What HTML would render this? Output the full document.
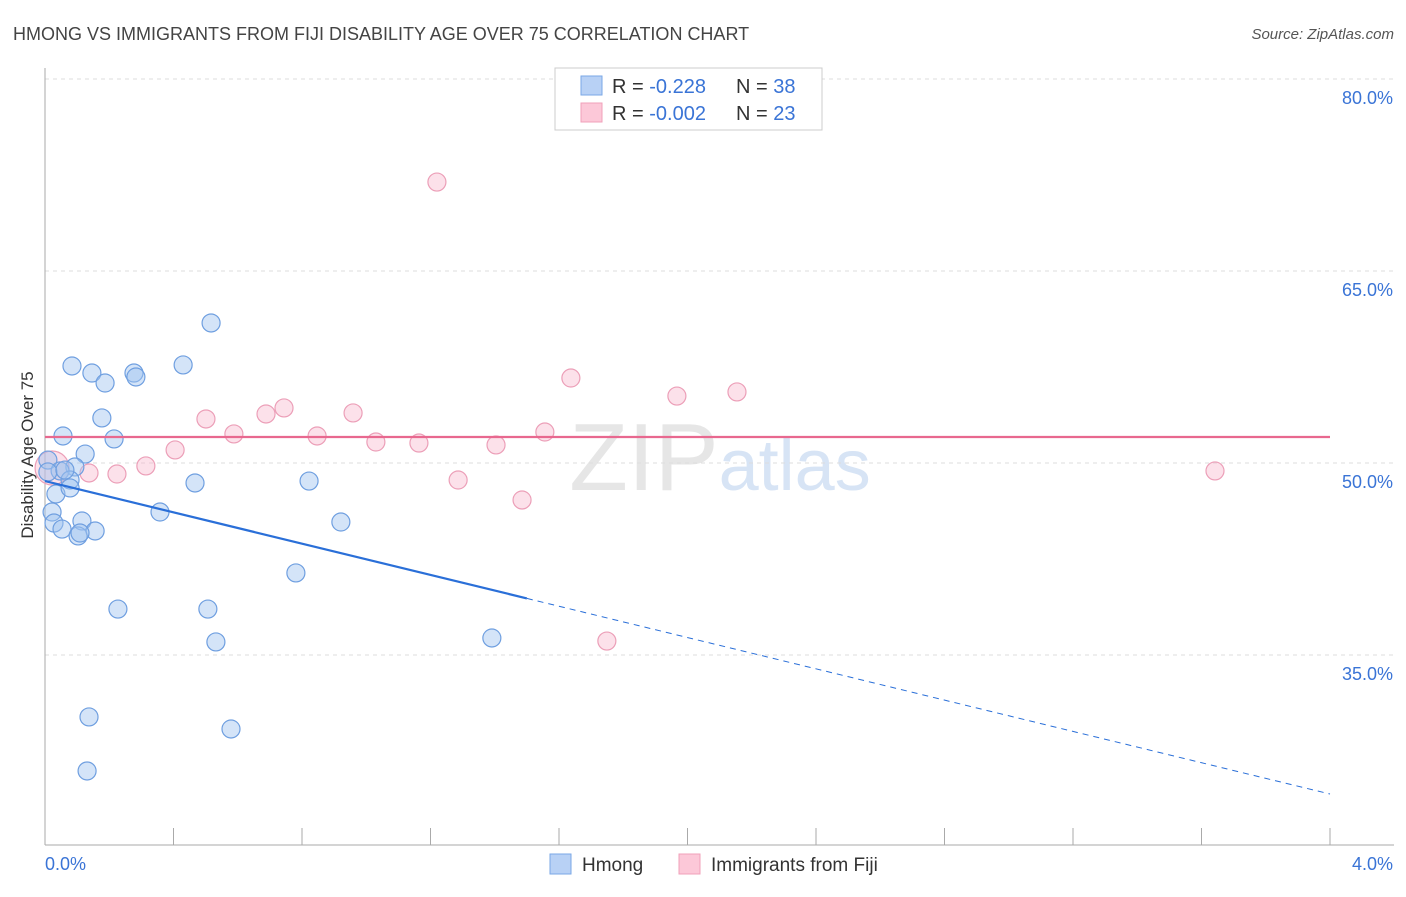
<!DOCTYPE html>
<html><head><meta charset="utf-8"><style>
body{margin:0;background:#fff;font-family:"Liberation Sans",sans-serif}
svg text{font-family:"Liberation Sans",sans-serif}
</style></head><body>
<svg id="chart" width="1406" height="892" xmlns="http://www.w3.org/2000/svg">
<text x="13" y="40" font-size="18" fill="#444">HMONG VS IMMIGRANTS FROM FIJI DISABILITY AGE OVER 75 CORRELATION CHART</text>
<text x="1394" y="39" font-size="15" fill="#555" text-anchor="end" font-style="italic">Source: ZipAtlas.com</text>
<text x="720" y="490" font-size="96" text-anchor="middle" fill="#e6e6e6" font-family="Liberation Serif">ZIP<tspan fill="#d7e4f5" font-family="Liberation Sans" font-size="72">atlas</tspan></text>
<g id="grid"></g><g id="axes"></g><g id="marks"></g>
<text transform="translate(33,455) rotate(-90)" font-size="17" fill="#333" text-anchor="middle">Disability Age Over 75</text>
<g>
<rect x="555" y="68" width="267" height="62" fill="#fff" stroke="#ccc"/>
<rect x="581" y="76" width="21" height="19" fill="#b8d1f5" stroke="#7aa7e6"/>
<rect x="581" y="103" width="21" height="19" fill="#fcc8d8" stroke="#f0a0ba"/>
<text x="612" y="93" font-size="20" fill="#333">R = <tspan fill="#3a74d6"> -0.228</tspan><tspan x="736">N = </tspan><tspan fill="#3a74d6">38</tspan></text>
<text x="612" y="120" font-size="20" fill="#333">R = <tspan fill="#3a74d6">-0.002</tspan><tspan x="736">N = </tspan><tspan fill="#3a74d6">23</tspan></text>
</g>
<g>
<rect x="550" y="854" width="21" height="20" fill="#b8d1f5" stroke="#7aa7e6"/>
<text x="582" y="871" font-size="19" fill="#333">Hmong</text>
<rect x="679" y="854" width="21" height="20" fill="#fcc8d8" stroke="#f0a0ba"/>
<text x="711" y="871" font-size="19" fill="#333">Immigrants from Fiji</text>
</g>
</svg>
<script>
const yTicks=[35,50,65,80];
const yTickLabels=["35.0%","50.0%","65.0%","80.0%"];
const xTickLabels=["0.0%","4.0%"];
const hmongX=[0.517,0.084,0.146,0.187,0.277,0.283,0.430,0.177,0.056,0.215,0.125,0.009,0.093,0.047,0.078,0.034,0.022,0.028,0.053,0.115,0.103,0.156,0.078,0.467,0.358,0.822,0.921,0.781,0.227,0.507,0.532,1.391,0.137,0.579,0.131,0.009,0.062,0.109];
const hmongY=[60.94,57.58,57.03,56.25,57.03,56.72,57.66,53.52,52.11,51.88,50.70,50.23,49.69,49.38,48.67,47.58,46.17,45.31,44.84,45.47,44.30,44.69,48.05,48.44,46.17,48.59,45.39,41.41,38.59,38.59,36.02,36.33,30.16,29.22,25.94,49.30,49.45,44.53];
const fijiX=[1.220,1.637,1.967,2.154,0.744,0.688,0.959,0.501,0.588,0.847,1.030,1.164,1.404,1.556,0.405,0.314,0.224,0.137,0.022,1.286,1.485,1.749,3.642];
const fijiY=[71.95,56.64,55.23,55.55,54.30,53.83,53.91,53.44,52.27,52.11,51.64,51.56,51.41,52.42,51.02,49.77,49.14,49.22,49.61,48.67,47.11,36.09,49.38];
const hmongTrend=[48.59,24.14];
const fijiTrend=[52.03,52.03];
const NS="http://www.w3.org/2000/svg";
const X=v=>45+v/4*1285, Y=v=>79+(80-v)*12.8;
function mk(parent,tag,attrs){const e=document.createElementNS(NS,tag);for(const k in attrs)e.setAttribute(k,attrs[k]);document.getElementById(parent).appendChild(e);return e;}
yTicks.forEach((t,i)=>{
 const l=mk('grid','line',{x1:45,x2:1394,y1:Y(t),y2:Y(t),stroke:'#ddd','stroke-dasharray':'4,4'});
 
 
 const tx=mk('grid','text',{x:1393,y:Y(t)+25,'font-size':18,fill:'#3a74d6','text-anchor':'end'});
 tx.textContent=yTickLabels[i];
 
 
});
const ax=mk('axes','line',{x1:45,x2:45,y1:68,y2:845,stroke:'#aaa'});


const bx=mk('axes','line',{x1:45,x2:1394,y1:845,y2:845,stroke:'#aaa'});


for(let i=0;i<=10;i++){const t=mk('axes','line',{x1:X(i*0.4),x2:X(i*0.4),y1:828,y2:845,stroke:'#aaa'});
 
 }
[[0,45,'start'],[4,1393,'end']].forEach((d,i)=>{const t=mk('axes','text',{x:d[1],y:870,'font-size':18,fill:'#3a74d6','text-anchor':d[2]});t.textContent=xTickLabels[i];
 
 });
fijiX.forEach((x,i)=>{const c=mk('marks','circle',{cx:X(x),cy:Y(fijiY[i]),r:(x<0.05?17:9),fill:'rgba(248,180,202,0.4)',stroke:'#ec9fb8','stroke-width':1.2});
 
 });
hmongX.forEach((x,i)=>{const c=mk('marks','circle',{cx:X(x),cy:Y(hmongY[i]),r:9,fill:'rgba(160,195,240,0.45)',stroke:'#6f9fe0','stroke-width':1.2});
 
 });
const hy=x=>hmongTrend[0]+(hmongTrend[1]-hmongTrend[0])*x/4;
const t1=mk('marks','line',{x1:X(0),y1:Y(hy(0)),x2:X(1.5),y2:Y(hy(1.5)),stroke:'#2a6fd8','stroke-width':2.2});


const t2=mk('marks','line',{x1:X(1.5),y1:Y(hy(1.5)),x2:X(4),y2:Y(hy(4)),stroke:'#2a6fd8','stroke-width':1,'stroke-dasharray':'6,5'});


const t3=mk('marks','line',{x1:X(0),y1:Y(fijiTrend[0]),x2:X(4),y2:Y(fijiTrend[1]),stroke:'#e8688f','stroke-width':2.2});


</script>
</body></html>
